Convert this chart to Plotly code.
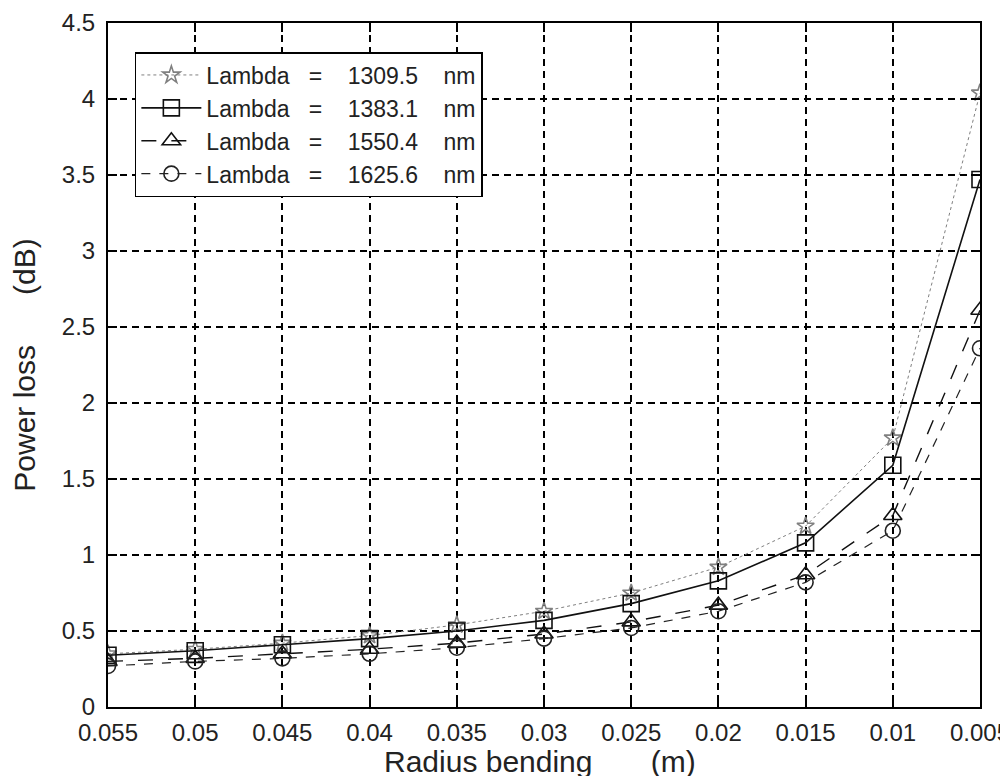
import plotly.graph_objects as go

radius = [0.055, 0.05, 0.045, 0.04, 0.035, 0.03, 0.025, 0.02, 0.015, 0.01, 0.005]
tick_labels = ["0.055", "0.05", "0.045", "0.04", "0.035", "0.03", "0.025", "0.02", "0.015", "0.01", "0.005"]
y_ticks = [0, 0.5, 1, 1.5, 2, 2.5, 3, 3.5, 4, 4.5]
y_tick_labels = ["0", "0.5", "1", "1.5", "2", "2.5", "3", "3.5", "4", "4.5"]

loss_1309 = [0.35, 0.38, 0.42, 0.47, 0.54, 0.63, 0.75, 0.92, 1.19, 1.77, 4.04]
loss_1383 = [0.34, 0.37, 0.41, 0.45, 0.50, 0.57, 0.68, 0.83, 1.08, 1.59, 3.47]
loss_1550 = [0.30, 0.32, 0.35, 0.38, 0.42, 0.48, 0.56, 0.67, 0.87, 1.26, 2.61]
loss_1625 = [0.27, 0.30, 0.32, 0.35, 0.39, 0.45, 0.52, 0.63, 0.82, 1.16, 2.36]

names = ["1309.5", "1383.1", "1550.4", "1625.6"]
series = [loss_1309, loss_1383, loss_1550, loss_1625]
symbols = ["star-open", "square-open", "triangle-up-open", "circle-open"]
marker_sizes = [13, 16, 16, 15]
dashes = ["dot", "solid", "longdash", "dash"]
colors = ["#808080", "#111111", "#111111", "#222222"]
widths = [1, 1.6, 1.4, 1.2]

NB = "\u00a0"
FONT = "Liberation Sans, Arial, sans-serif"
X_TITLE = f"Radius bending{NB*7}(m)"

fig = go.Figure()
for nm, ys, sym, ms, dsh, col, w in zip(names, series, symbols, marker_sizes, dashes, colors, widths):
    fig.add_trace(go.Scatter(
        x=radius, y=ys, mode="lines+markers",
        name=f"Lambda{NB*3}={NB*4}{nm}{NB*4}nm",
        line=dict(color=col, dash=dsh, width=w),
        marker=dict(symbol=sym, size=ms, color=col, line=dict(color=col, width=1.6)),
    ))

axis_common = dict(
    showline=True, linecolor="black", linewidth=2, mirror="ticks",
    ticks="inside", ticklen=9, tickcolor="black", tickwidth=1.5,
    showgrid=True, gridcolor="black", griddash="7px,5px", gridwidth=1.7,
    zeroline=False, automargin=False,
)

fig.update_layout(
    width=1008, height=776,
    paper_bgcolor="white", plot_bgcolor="white",
    margin=dict(l=100, r=36, t=15, b=77),
    font=dict(family=FONT, color="#222"),
    xaxis=dict(
        range=[0.055, 0.005], tickvals=radius, ticktext=tick_labels,
        tickfont=dict(family=FONT, size=24, color="#222"),
        ticklabelstandoff=3,
        **axis_common,
    ),
    yaxis=dict(
        range=[0, 4.5], tickvals=y_ticks, ticktext=y_tick_labels,
        tickfont=dict(family=FONT, size=24, color="#222"),
        ticklabelstandoff=6,
        title=dict(text=f"Power loss{NB*6}(dB)", font=dict(family=FONT, size=30), standoff=18),
        **axis_common,
    ),
    legend=dict(
        x=0.0308, y=0.9576, xanchor="left", yanchor="top",
        bgcolor="white", bordercolor="black", borderwidth=1.5,
        font=dict(family=FONT, size=23, color="#222"),
        tracegroupgap=0, itemwidth=60,
    ),
    annotations=[dict(
        text=X_TITLE, xref="paper", yref="paper", x=0.495, y=-0.079,
        xanchor="center", yanchor="middle", showarrow=False,
        font=dict(family=FONT, size=30, color="#222"),
    )],
    showlegend=True,
)

fig.write_html("out.html")
